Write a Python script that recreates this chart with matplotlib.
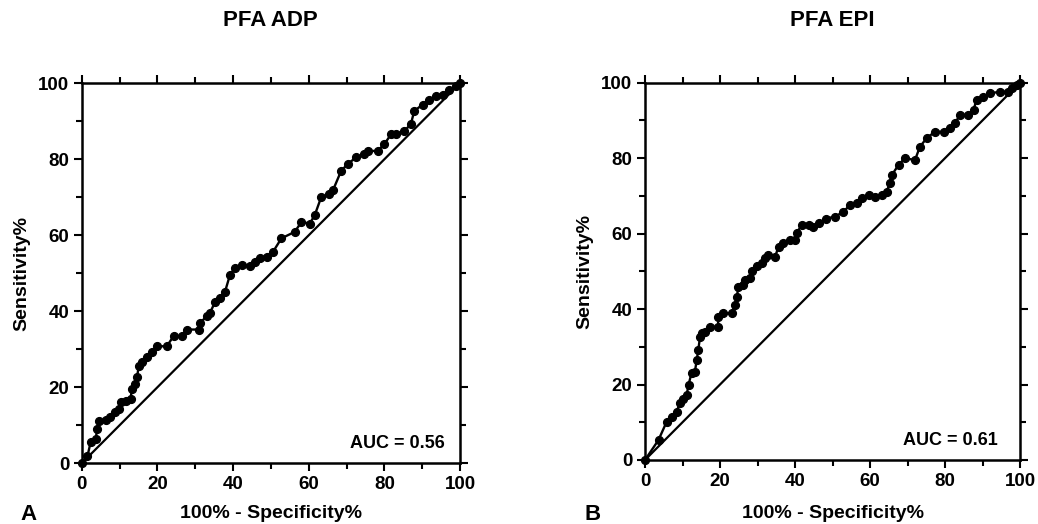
import matplotlib
matplotlib.use("Agg")
import matplotlib.pyplot as plt
from matplotlib.ticker import MultipleLocator

plt.rcParams['font.family'] = ['Liberation Sans', 'DejaVu Sans']
plt.rcParams['font.weight'] = 'bold'

# ---- data ----
adp_fpr = [0, 1.5, 2.4, 3.7, 4.1, 4.6, 6.3, 7.6, 8.9, 9.8, 10.3, 11.6, 12.9, 13.3, 14.2, 14.6,
           15.1, 16.0, 17.3, 18.6, 19.9, 22.5, 24.3, 26.5, 27.8, 30.9, 31.3, 33.1, 33.9, 35.3,
           36.6, 37.9, 39.2, 40.5, 42.3, 44.5, 45.8, 47.1, 48.9, 50.6, 52.8, 56.3, 58.1, 60.3,
           61.6, 63.3, 65.5, 66.4, 68.6, 70.4, 72.5, 74.7, 75.6, 78.2, 80.0, 81.8, 83.1, 85.3,
           87.0, 87.9, 90.1, 91.8, 93.6, 95.4, 97.1, 98.9, 100]
adp_tpr = [0, 1.8, 5.7, 6.5, 9.0, 11.0, 11.3, 12.2, 13.5, 14.4, 16.1, 16.5, 17.0, 19.6, 20.9, 22.6,
           25.6, 26.6, 28.0, 29.2, 30.8, 30.8, 33.5, 33.5, 35.2, 35.2, 37.0, 38.7, 39.6, 42.5,
           43.6, 45.2, 49.6, 51.4, 52.2, 52.0, 53.0, 54.0, 54.4, 55.7, 59.2, 60.9, 63.5, 63.1,
           65.3, 70.0, 70.9, 71.8, 77.0, 78.8, 80.5, 81.4, 82.2, 82.2, 84.0, 86.6, 86.6, 87.5,
           89.2, 92.7, 94.4, 95.7, 96.6, 97.0, 98.3, 99.2, 100]

epi_fpr = [0, 3.6, 5.8, 7.1, 8.4, 9.3, 10.2, 11.1, 11.6, 12.4, 13.3, 13.8, 14.2, 14.7, 15.1,
           16.0, 17.3, 19.5, 19.5, 20.9, 23.1, 24.0, 24.5, 24.9, 26.2, 26.7, 28.0, 28.4, 29.8,
           31.1, 32.0, 32.9, 34.7, 35.6, 36.9, 38.7, 40.0, 40.4, 41.8, 43.6, 44.9, 46.5, 48.2,
           50.7, 52.9, 54.7, 56.4, 57.8, 59.6, 61.3, 63.1, 64.4, 65.3, 65.8, 67.6, 69.3, 72.0,
           73.3, 75.1, 77.3, 79.6, 81.3, 82.7, 84.0, 86.2, 87.6, 88.4, 90.2, 92.0, 94.7, 96.9,
           97.8, 99.1, 100]
epi_tpr = [0, 5.3, 10.2, 11.5, 12.8, 15.0, 16.3, 17.2, 19.9, 23.0, 23.4, 26.5, 29.2, 32.7, 33.6,
           34.0, 35.3, 35.3, 38.0, 38.9, 38.9, 41.1, 43.3, 45.9, 46.4, 47.7, 48.2, 50.0, 51.3,
           52.3, 53.5, 54.3, 53.9, 56.5, 57.4, 58.3, 58.3, 60.1, 62.3, 62.3, 61.8, 62.7, 64.0,
           64.5, 65.8, 67.6, 68.0, 69.4, 70.2, 69.8, 70.2, 71.1, 73.3, 75.5, 78.2, 80.0, 79.5,
           83.0, 85.3, 87.0, 87.0, 87.9, 89.3, 91.5, 91.5, 92.8, 95.4, 96.3, 97.2, 97.6, 97.6,
           98.5, 99.4, 100]

titles = ["PFA ADP", "PFA EPI"]
auc_labels = ["AUC = 0.56", "AUC = 0.61"]
panel_letters = ["A", "B"]
xlabel = "100% - Specificity%"
ylabel = "Sensitivity%"

fig = plt.figure(figsize=(10.38, 5.24), dpi=100)
W, H = 1038, 524
boxes = [(81.7, 460, 83.3, 463.3), (645, 1020, 82.7, 460)]
series = [(adp_fpr, adp_tpr), (epi_fpr, epi_tpr)]
ylabel_x = [22, 585]
letter_x = [20, 584]

for i in range(2):
    l, r, t, b = boxes[i]
    ax = fig.add_axes([l / W, 1 - b / H, (r - l) / W, (b - t) / H])
    ax.set_xlim(0, 100)
    ax.set_ylim(0, 100)
    ax.plot([0, 100], [0, 100], color='black', lw=1.6, zorder=2, clip_on=False)
    x, y = series[i]
    ax.plot(x, y, color='black', lw=1.7, marker='o', ms=5.6, mfc='black', mec='black',
            zorder=3, clip_on=False)
    for s in ax.spines.values():
        s.set_linewidth(1.8)
    ax.xaxis.set_major_locator(MultipleLocator(20))
    ax.yaxis.set_major_locator(MultipleLocator(20))
    ax.xaxis.set_minor_locator(MultipleLocator(10))
    ax.yaxis.set_minor_locator(MultipleLocator(10))
    ax.tick_params(which='both', direction='out', top=True, right=True, width=1.5,
                   labeltop=False, labelright=False)
    ax.tick_params(which='major', length=6, labelsize=13.5, pad=3)
    ax.tick_params(which='minor', length=4)
    for lab in ax.get_xticklabels() + ax.get_yticklabels():
        lab.set_fontweight('bold')
    ax.text(96 if i == 0 else 94, 4, auc_labels[i], ha='right', va='baseline',
            fontsize=13, fontweight='bold')
    cx = (l + r) / 2
    fig.text(cx / W, 1 - 20 / H, titles[i], ha='center', va='center', fontsize=16,
             fontweight='bold')
    fig.text(cx / W, 1 - 514 / H, xlabel, ha='center', va='center', fontsize=14,
             fontweight='bold')
    fig.text(ylabel_x[i] / W, 1 - ((t + b) / 2) / H, ylabel, ha='center', va='center',
             rotation=90, fontsize=14, fontweight='bold')
    fig.text(letter_x[i] / W, 1 - 515 / H, panel_letters[i], ha='left', va='center',
             fontsize=16, fontweight='bold')

fig.savefig("out.png", dpi=100)
